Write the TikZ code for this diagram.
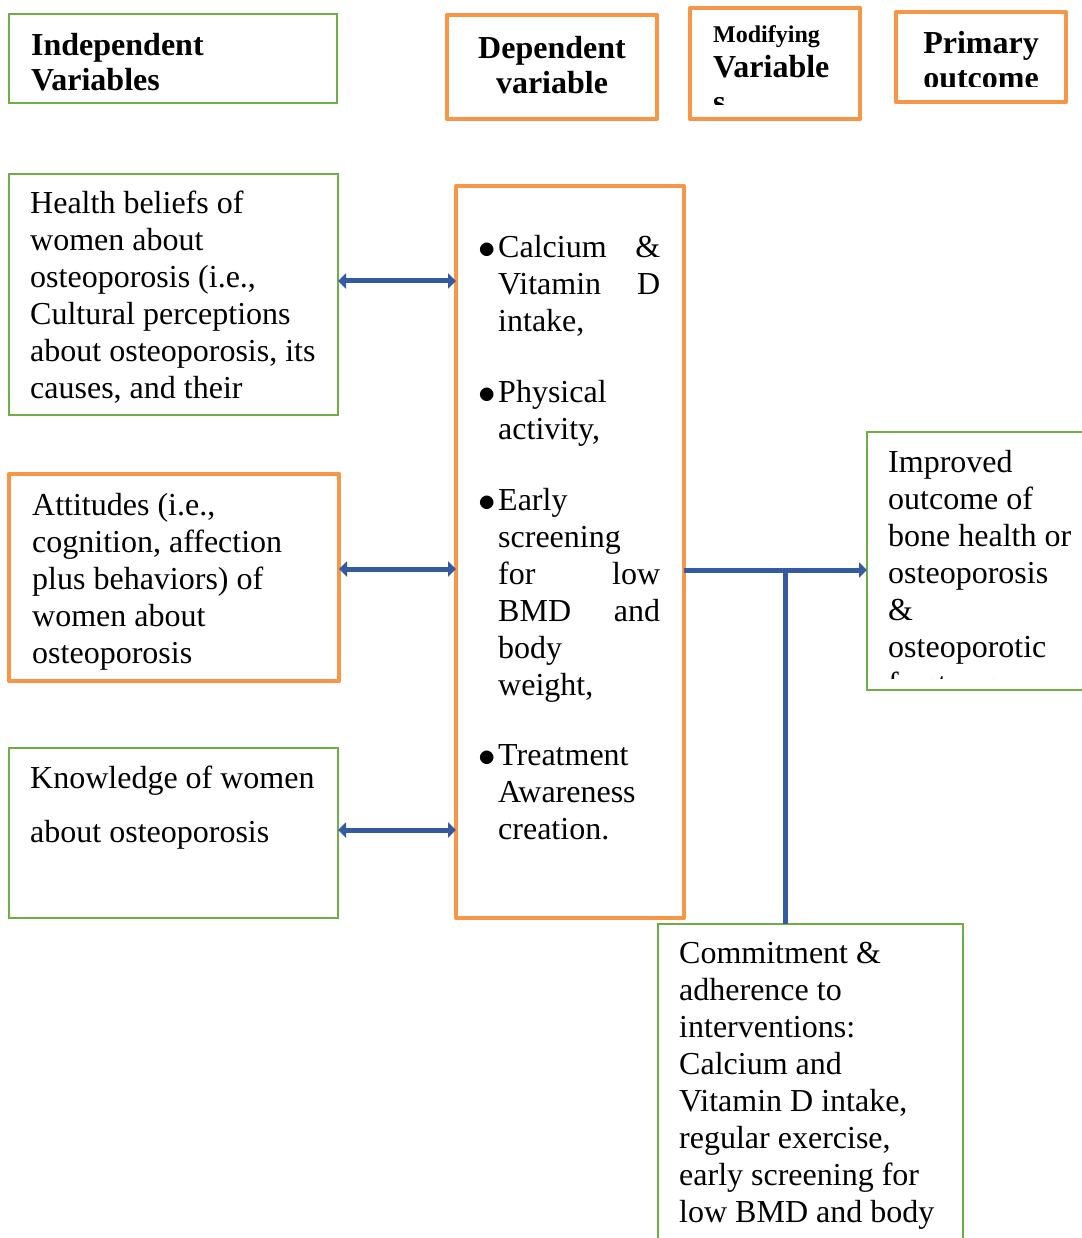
\documentclass[tikz,border=0pt]{standalone}
\usepackage{fontspec}
\usepackage{graphicx}
\setmainfont{Liberation Serif}
\usetikzlibrary{arrows.meta}
\definecolor{boxgreen}{RGB}{112,173,71}
\definecolor{boxorange}{RGB}{247,150,70}
\definecolor{arrblue}{RGB}{52,90,160}
\newcommand{\itm}{\leavevmode\llap{\raisebox{-1.5pt}{\scalebox{1.4}{$\bullet$}}\hspace{2pt}}}
\begin{document}
\begin{tikzpicture}[x=1pt,y=-1pt,
  gbox/.style={draw=boxgreen,line width=2.5pt,anchor=north west,inner sep=0,outer sep=0},
  obox/.style={draw=boxorange,line width=4.5pt,line join=round,anchor=north west,inner sep=0,outer sep=0},
  txt/.style={inner sep=0,align=left,anchor=north west,font=\fontsize{32}{37}\selectfont},
  head/.style={inner sep=0,font=\bfseries\fontsize{32}{35}\selectfont},
  link/.style={draw=arrblue,line width=5pt},
  both/.style={link,{Triangle[length=8pt,width=15pt]}-{Triangle[length=8pt,width=15pt]}},
  oneway/.style={link,-{Triangle[length=8pt,width=15pt]}}]
\useasboundingbox (0,0) rectangle (1081,1238);

% header boxes
\node[gbox,minimum width=328,minimum height=89] (ind) at (9,14) {};
\node[obox,minimum width=210,minimum height=104] (dep) at (447,15) {};
\node[obox,minimum width=170,minimum height=111] (mod) at (690,8) {};
\node[obox,minimum width=170,minimum height=90] (pri) at (896,12) {};
\node[head,anchor=north west,align=left] (indt) at ([shift={(22,16.5)}]ind.north west) {\strut Independent\\Variables};
\node[head,anchor=north,align=center] (dept) at ([shift={(0,18.5)}]dep.north) {\strut Dependent\\variable};
\node[inner sep=0,anchor=base west,font=\bfseries\fontsize{24}{28}\selectfont] (modt) at ([shift={(23,35)}]mod.north west) {Modifying};
\begin{scope}
\clip (692,10) rectangle (858,105);
\node[head,anchor=north west,align=left] (modv) at ([shift={(23,44.5)}]mod.north west) {\strut Variable\\s};
\end{scope}
\begin{scope}
\clip (898,14) rectangle (1064,87);
\node[head,anchor=north,align=center] (prit) at ([shift={(0,16.5)}]pri.north) {\strut Primary\\outcome};
\end{scope}

% main boxes
\node[gbox,minimum width=329,minimum height=241] (hb) at (9,174) {};
\node[obox,minimum width=330,minimum height=207] (att) at (9,474) {};
\node[gbox,minimum width=329,minimum height=170] (kn) at (9,748) {};
\node[obox,minimum width=228,minimum height=732] (dv) at (456,186) {};
\node[gbox,minimum width=240,minimum height=258] (out) at (867,432) {};
\node[gbox,minimum width=305,minimum height=340] (com) at (658,924) {};

\node[txt] (hbt) at ([shift={(21,13.1)}]hb.north west) {\strut Health beliefs of\\women about\\osteoporosis (i.e.,\\Cultural perceptions\\about osteoporosis, its\\causes, and their};
\node[txt] (attt) at ([shift={(23,15.1)}]att.north west) {\strut Attitudes (i.e.,\\cognition, affection\\plus behaviors) of\\women about\\osteoporosis};
\node[txt] (knt) at ([shift={(21,14.1)}]kn.north west) {\strut Knowledge of women\\[17pt]about osteoporosis};
\node[txt,text width=162] (dvt) at ([shift={(42,45.1)}]dv.north west) {\strut\itm Calcium\hfill\&\\Vitamin\hfill D\\intake,\\[34pt]\itm Physical\\activity,\\[34pt]\itm Early\\screening\\for\hfill low\\BMD\hfill and\\body\\weight,\\[33pt]\itm Treatment\\Awareness\\creation.};
\begin{scope}
\clip (869,434) rectangle (1081,678);
\node[txt] (outt) at ([shift={(21,14.1)}]out.north west) {\strut Improved\\outcome of\\bone health or\\osteoporosis\\\&\\osteoporotic\\fractures};
\end{scope}
\node[txt] (comt) at ([shift={(21,13.1)}]com.north west) {\strut Commitment \&\\adherence to\\interventions:\\Calcium and\\Vitamin D intake,\\regular exercise,\\early screening for\\low BMD and body};

% connectors
\coordinate (jn) at (785,570);
\draw[both] ([yshift=13.5pt]hb.east) -- ([yshift=13.5pt]hb.east -| dv.west);
\draw[both] ([yshift=8.5pt]att.east) -- ([yshift=8.5pt]att.east -| dv.west);
\draw[both] ([yshift=3pt]kn.east) -- ([yshift=3pt]kn.east -| dv.west);
\draw[oneway] (dv.east |- jn) -- (out.west |- jn);
\draw[link] (com.north -| jn) -- (jn);
\end{tikzpicture}
\end{document}
